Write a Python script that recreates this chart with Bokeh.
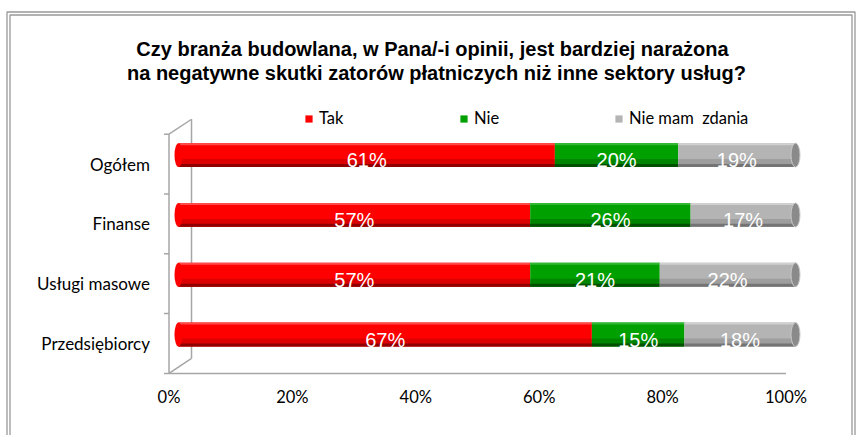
from bokeh.plotting import figure
from bokeh.models import Range1d, Legend, LegendItem
from bokeh.embed import file_html
from bokeh.resources import INLINE
from bokeh.core.properties import value

# ---------------- data ----------------
categories = ["Ogółem", "Finanse", "Usługi masowe", "Przedsiębiorcy"]
tak = [61, 57, 57, 67]
nie = [20, 26, 21, 15]
brak = [19, 17, 22, 18]
series_names = ["Tak", "Nie", "Nie mam  zdania"]
x_ticks = [0, 20, 40, 60, 80, 100]
x_tick_labels = ["0%", "20%", "40%", "60%", "80%", "100%"]
title_lines = [
    "Czy branża budowlana, w Pana/-i opinii, jest bardziej narażona",
    "na negatywne skutki zatorów płatniczych niż inne sektory usług?",
]

# ---------------- layout / styles ----------------
W, H = 858, 435
X0_FRONT, X0_BAR, X_SCALE = 168.5, 178.0, 6.17     # px position of 0 %, px per %
Y0_FRONT, Y0_BAR, Y_SCALE = 343.0, 334.0, 59.8     # px position of last category, px per row
colors = ["#ff0000", "#00a000", "#b4b4b4"]
dark = ["#c00000", "#007000", "#8c8c8c"]
darker = ["#900000", "#005000", "#747474"]
light = ["#ff4a4a", "#33b833", "#d0d0d0"]
cap_color = "#8a8a8a"
wall_color = "#a6a6a6"
border_color = "#999999"
BAR_H = 0.40
PX = BAR_H / 24.0           # one pixel in bar y-units
DEPTH_X = 3.65              # 3D depth of the wall (x units)
DEPTH_Y = 0.25              # 3D depth of the wall (y units)
TICK = 5.0 / X_SCALE        # wall tick length
LABEL_FONT = "Lato"

n = len(categories)
ypos = [n - 1 - i for i in range(n)]

p = figure(
    width=W, height=H,
    x_range=Range1d(-X0_FRONT / X_SCALE, (W - X0_FRONT) / X_SCALE),
    y_range=Range1d((Y0_FRONT - H) / Y_SCALE, Y0_FRONT / Y_SCALE),
    output_backend="svg", toolbar_location=None, title_location=None,
    x_axis_type=None, y_axis_type=None,
    min_border=0, min_border_left=0, min_border_right=0, min_border_top=0, min_border_bottom=0,
)
p.extra_x_ranges = {"bx": Range1d(-X0_BAR / X_SCALE, (W - X0_BAR) / X_SCALE),
                    "px": Range1d(0, W)}
p.extra_y_ranges = {"by": Range1d((Y0_BAR - H) / Y_SCALE, Y0_BAR / Y_SCALE),
                    "px": Range1d(H, 0)}
p.outline_line_color = None
p.background_fill_color = "white"
p.border_fill_color = "white"

# ---------------- double frame around the chart ----------------
for inset in (0, 3):
    p.line([6.5 + inset, 6.5 + inset, 854.5 - inset, 854.5 - inset],
           [H + 5, 11.5 + inset, 11.5 + inset, H + 5],
           line_color=border_color, line_width=1.3,
           x_range_name="px", y_range_name="px")

# ---------------- title ----------------
p.text(x=[432, 436], y=[48, 72], text=title_lines,
       text_font=value("Liberation Sans"), text_font_size="20px", text_font_style="bold",
       text_color="#000000", text_align="center", text_baseline="middle",
       x_range_name="px", y_range_name="px")

# ---------------- 3D wall and floor ----------------
bounds = [y - 0.5 for y in ypos] + [max(ypos) + 0.5]
y_lo, y_hi = min(bounds), max(bounds)
p.line([0, 0], [y_lo, y_hi], line_color=wall_color, line_width=1.5)
p.line([DEPTH_X, DEPTH_X], [y_lo + DEPTH_Y, y_hi + DEPTH_Y], line_color=wall_color, line_width=1.5)
p.line([0, DEPTH_X], [y_hi, y_hi + DEPTH_Y], line_color=wall_color, line_width=1.5)
p.line([0, DEPTH_X], [y_lo, y_lo + DEPTH_Y], line_color=wall_color, line_width=1.5)
p.line([0, x_ticks[-1]], [y_lo, y_lo], line_color=wall_color, line_width=1.5)
p.segment(x0=[-TICK] * len(bounds), x1=[0] * len(bounds), y0=bounds, y1=bounds,
          line_color=wall_color, line_width=1.5)

# ---------------- axis labels ----------------
p.text(x=[0] * n, y=ypos, text=categories, x_offset=-19,
       text_font=value(LABEL_FONT), text_font_size="17px", text_color="#000000",
       text_align="right", text_baseline="middle")
p.text(x=x_ticks, y=[y_lo] * len(x_ticks), text=x_tick_labels, y_offset=24,
       text_font=value(LABEL_FONT), text_font_size="16.5px", text_color="#000000",
       text_align="center", text_baseline="middle")

# ---------------- bars ----------------
series = [tak, nie, brak]
lefts = [0] * n
main_renderers = []
for k, vals in enumerate(series):
    rights = [l + v for l, v in zip(lefts, vals)]
    r = p.hbar(y=ypos, left=lefts, right=rights, height=BAR_H,
               fill_color=colors[k], line_color=None,
               x_range_name="bx", y_range_name="by")
    main_renderers.append(r)
    # cylinder shading: darker bottom, light top
    p.hbar(y=[y - BAR_H / 2 + 4 * PX for y in ypos], left=lefts, right=rights, height=8 * PX,
           fill_color=dark[k], line_color=None, fill_alpha=0.55,
           x_range_name="bx", y_range_name="by")
    p.hbar(y=[y - BAR_H / 2 + 1.5 * PX for y in ypos], left=lefts, right=rights, height=3 * PX,
           fill_color=darker[k], line_color=None,
           x_range_name="bx", y_range_name="by")
    p.hbar(y=[y + BAR_H / 2 - 1 * PX for y in ypos], left=lefts, right=rights, height=2 * PX,
           fill_color=light[k], line_color=None,
           x_range_name="bx", y_range_name="by")
    mids = [(l + r_) / 2 for l, r_ in zip(lefts, rights)]
    p.text(x=mids, y=ypos, text=[f"{v}%" for v in vals],
           text_color="white", text_font=value("Liberation Sans"), text_font_size="20px",
           text_align="center", text_baseline="middle", y_offset=5,
           x_range_name="bx", y_range_name="by")
    lefts = rights

# end caps of the cylinders
p.ellipse(x=[0] * n, y=ypos, width=8, height=BAR_H, width_units="screen",
          fill_color=colors[0], line_color=None, x_range_name="bx", y_range_name="by")
p.ellipse(x=lefts, y=ypos, width=9, height=BAR_H, width_units="screen",
          fill_color=cap_color, line_color="#c8c8c8", line_width=1,
          x_range_name="bx", y_range_name="by")

# ---------------- legend ----------------
legend = Legend(
    items=[LegendItem(label=nm, renderers=[r]) for nm, r in zip(series_names, main_renderers)],
    orientation="horizontal", location=(304, 307),
    glyph_width=9, glyph_height=9, label_standoff=6, label_width=140, label_height=16,
    spacing=0, padding=0, margin=0,
    border_line_color=None, background_fill_alpha=0,
    label_text_font=LABEL_FONT, label_text_font_size="16.5px", label_text_color="#000000",
)
p.add_layout(legend)

open("out.html", "w").write(file_html(p, INLINE))
